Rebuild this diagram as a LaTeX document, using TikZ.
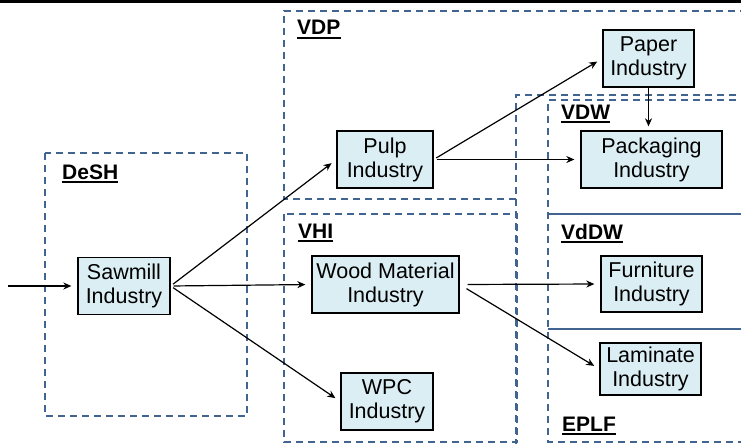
\documentclass[tikz,border=0pt]{standalone}
\usepackage{fontspec}
\setmainfont{Liberation Sans}
\usepackage{tikz}
\usetikzlibrary{arrows.meta,positioning,calc}

\definecolor{grpblue}{RGB}{65,100,145}
\definecolor{boxfill}{RGB}{219,238,244}

% underlined group label
\newcommand{\grplabel}[3]{%
  \node[lbl] (#1) at (#2) {#3};
  \draw[line width=1.6pt] ([yshift=-3pt]#1.base west) -- ([yshift=-3pt]#1.base east);}

\begin{document}
\begin{tikzpicture}[
  x=1pt, y=-1pt,
  font=\fontsize{21.5}{24}\selectfont,
  ibox/.style={draw, fill=boxfill, line width=1.3pt, align=center, inner sep=0pt, minimum height=57pt},
  grp/.style={draw=grpblue, line width=2.2pt, dash pattern=on 7pt off 5pt},
  sep/.style={draw=grpblue, line width=1.6pt},
  lbl/.style={font=\fontsize{21}{24}\selectfont\bfseries, anchor=base west, inner sep=0pt},
  arr/.style={-{Stealth[length=8pt, width=7pt, inset=2.5pt]}, line width=1.2pt, shorten >=6pt, shorten <=3pt}
]
\useasboundingbox (0,0) rectangle (741,444);
\clip (0,0) rectangle (741,444);
\fill[black] (0,0) rectangle (741,3);

% group frames
\draw[grp] (45,153) rectangle (247,416);
\draw[grp] (516,199) -- (284,199) -- (284,11) -- (760,11);
\draw[grp] (760,95) -- (516,95) -- (516,450);
\draw[grp] (284,214) rectangle (517,442);
\draw[grp] (760,100) -- (548,100) -- (548,442) -- (760,442);
\draw[sep] (548,214) -- (760,214);
\draw[sep] (548,329) -- (760,329);

\grplabel{desh}{62,179}{DeSH}
\grplabel{vdp}{297,35}{VDP}
\grplabel{vhi}{298,238}{VHI}
\grplabel{vdw}{561,119}{VDW}
\grplabel{vddw}{561,239}{VdDW}
\grplabel{eplf}{562,431}{EPLF}

% industries
\node[ibox, minimum width=92pt] (saw) at (124,286) {Sawmill\\Industry};
\node[ibox, minimum width=96pt] (pulp) at (385,159.5) {Pulp\\Industry};
\node[ibox, minimum width=147pt] (wood) at (385.5,284.5) {Wood Material\\Industry};
\node[ibox, minimum width=92pt] (wpc) at (387,401.5) {WPC\\Industry};
\node[ibox, minimum width=91pt] (paper) at (648.5,58.5) {Paper\\Industry};
\node[ibox, minimum width=141pt] (pack) at (651.5,159.5) {Packaging\\Industry};
\node[ibox, minimum width=101pt, minimum height=56pt] (furn) at (651.5,284) {Furniture\\Industry};
\node[ibox, minimum width=101pt, minimum height=52pt] (lam) at (650.5,369) {Laminate\\Industry};

\coordinate (in) at (8,286);

\draw[arr, shorten <=0pt] (in) -- (saw.west);
\draw[arr] (saw.east) -- (pulp.west);
\draw[arr] (saw.east) -- (wood.west);
\draw[arr] (saw.east) -- (wpc.west);
\draw[arr] (pulp.east) -- (paper.west);
\draw[arr] (pulp.east) -- (pack.west);
\draw[arr, shorten >=4pt, shorten <=0pt] (paper.south) -- (paper.south |- pack.north);
\draw[arr, shorten <=8pt] (wood.east) -- (furn.west);
\draw[arr, shorten <=8pt] (wood.east) -- (lam.west);
\end{tikzpicture}
\end{document}
